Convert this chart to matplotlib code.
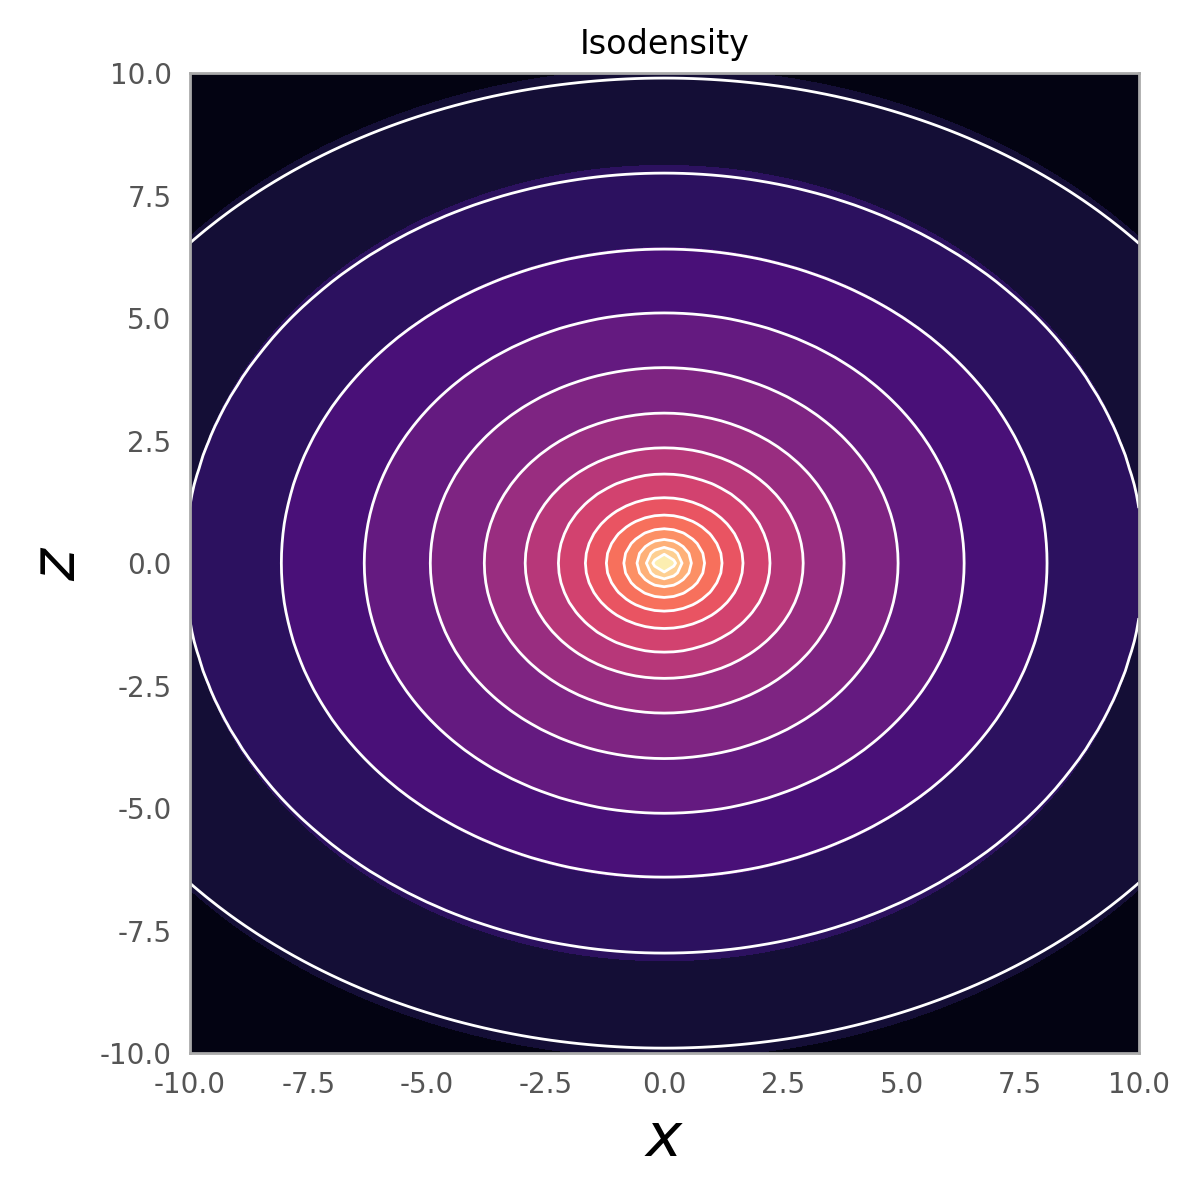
import numpy as np
import matplotlib
matplotlib.use("Agg")
import matplotlib.pyplot as plt

# Contour levels (index 1 = outermost line, 14 = innermost line)
levels_line = np.arange(1, 15)
# Semi-axes of each isodensity contour along x and along z
radii_x = [13.3, 10.1, 8.07, 6.32, 4.93, 3.79, 2.93, 2.23, 1.66, 1.22, 0.85, 0.57, 0.37, 0.23]
radii_z = [9.90, 7.96, 6.41, 5.11, 3.99, 3.06, 2.35, 1.82, 1.33, 0.98, 0.70, 0.48, 0.31, 0.19]
# The outer filled bands are slightly rounder than the lines
fill_z_stretch = [1.02, 1.02, 1.005, 1.0, 1.0, 1.0, 1.0, 1.0, 1.0, 1.0, 1.0, 1.0, 1.0, 1.0]
fill_levels = np.arange(0, 16)
x_ticks = [-10.0, -7.5, -5.0, -2.5, 0.0, 2.5, 5.0, 7.5, 10.0]
z_ticks = [-10.0, -7.5, -5.0, -2.5, 0.0, 2.5, 5.0, 7.5, 10.0]

plt.rcParams['axes.unicode_minus'] = False
plt.rcParams['font.family'] = ['DejaVu Sans']

xg = np.linspace(-10, 10, 101)
zg = np.linspace(-10, 10, 101)
X, Z = np.meshgrid(xg, zg)


def field(ax_x, ax_z):
    a = np.asarray(ax_x)[:, None, None]
    b = np.asarray(ax_z)[:, None, None]
    lg = np.log((X[None] / a) ** 2 + (Z[None] / b) ** 2 + 1e-12)  # increases inward
    n = np.sum(lg < 0, axis=0)  # number of contours enclosing the point
    k = np.clip(n, 1, len(ax_x) - 1)
    lo = np.take_along_axis(lg, (k - 1)[None], axis=0)[0]
    hi = np.take_along_axis(lg, k[None], axis=0)[0]
    frac = (0 - lo) / (hi - lo)
    v = k + frac  # level of contour j (0-based) is j+1
    return np.clip(v, 0.02, 14.98)


F_line = field(radii_x, radii_z)
F_fill = field(radii_x, np.asarray(radii_z) * np.asarray(fill_z_stretch))

fig = plt.figure(figsize=(6, 6), dpi=200)
ax = fig.add_axes([0.158, 0.1225, 0.791, 0.8165])
ax.contourf(X, Z, F_fill, levels=fill_levels, cmap='magma')
ax.contour(X, Z, F_line, levels=levels_line, colors='white', linewidths=1.0)

ax.set_xlim(-10, 10)
ax.set_ylim(-10, 10)
ax.set_xticks(x_ticks)
ax.set_yticks(z_ticks)
ax.set_xticklabels([f"{t:.1f}" for t in x_ticks])
ax.set_yticklabels([f"{t:.1f}" for t in z_ticks])
ax.tick_params(length=0, pad=6.5, labelsize=10, labelcolor='#555555')
for s in ax.spines.values():
    s.set_color('#aaaaaa')
    s.set_linewidth(1.0)
ax.set_title('Isodensity', fontsize=12, pad=7)
ax.set_xlabel('$x$', fontsize=22, labelpad=4)
ax.set_ylabel('$z$', fontsize=22, labelpad=4)

fig.savefig('out.png', dpi=200)
